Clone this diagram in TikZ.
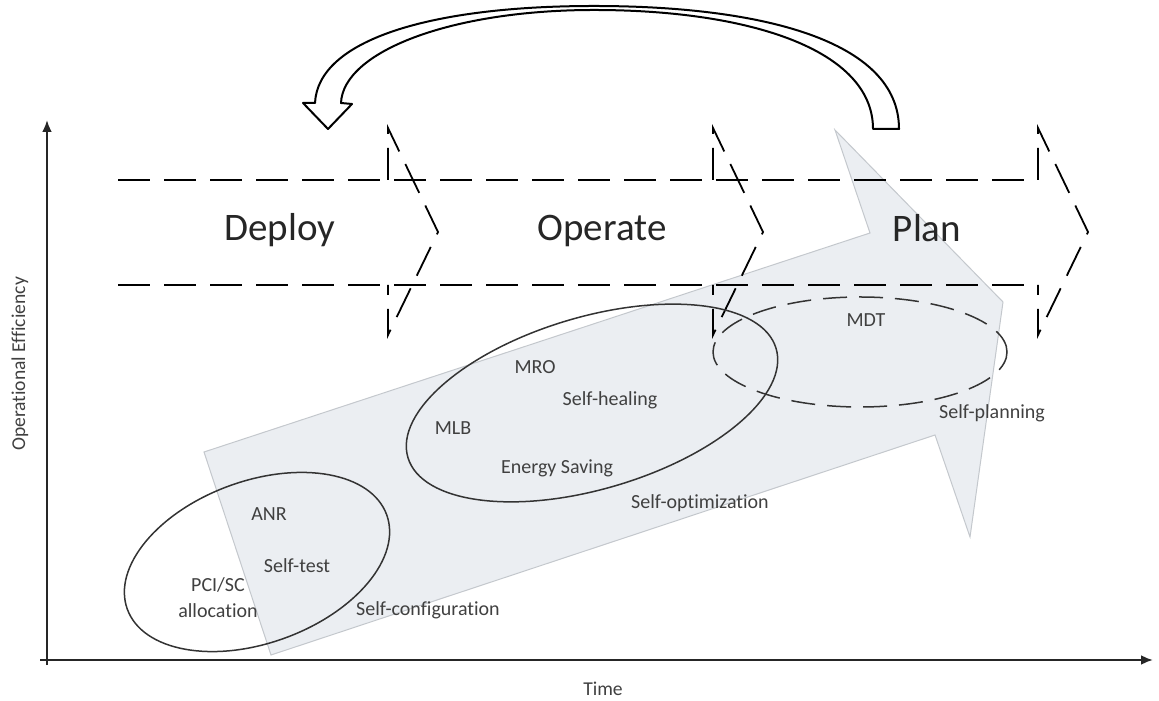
\documentclass[tikz,border=0pt]{standalone}
\usepackage{fontspec}
\setmainfont{Carlito}[Ligatures={NoCommon}]
\usetikzlibrary{arrows.meta}
\definecolor{arrowfill}{RGB}{235,238,242}
\definecolor{arrowedge}{RGB}{196,200,205}
\definecolor{labelgray}{RGB}{64,64,64}
\tikzset{
  dashline/.style={line width=0.9pt, dash pattern=on 16pt off 7pt},
  phase/.style={font=\fontsize{19.5}{22}\selectfont, text=black!85, anchor=base},
  feature/.style={font=\fontsize{10}{12}\selectfont, text=labelgray, inner sep=0pt, align=center},
  axislabel/.style={font=\fontsize{9.8}{12}\selectfont, text=labelgray, inner sep=0pt}
}
\begin{document}
\begin{tikzpicture}[x=0.5pt, y=0.5pt]
  \useasboundingbox (0,0) rectangle (1159,700);
  % big grey arrow in the background
  \draw[fill=arrowfill, draw=arrowedge, line width=0.5pt]
    (271,45) -- (204,248) -- (870,467) -- (835,570) -- (1003,398)
    -- (970,163) -- (935,265) -- cycle;
  % dashed chevrons: Deploy, Operate, Plan
  \draw[dashline] (118,520) -- (1038,520);
  \draw[dashline] (118,415) -- (1038,415);
  \foreach \x in {388,713,1038}
    \draw[dashline] (\x,520) -- (\x,572) -- (\x+50,468) -- (\x,365) -- (\x,415);
  \node[phase] (deploy) at (280,459) {Deploy};
  \node[phase] (operate) at (602,459) {Operate};
  \node[phase] (plan) at (927,458) {Plan};
  % groups of functions
  \draw[line width=0.75pt, black!80] (257,138) ellipse [x radius=138, y radius=81, rotate=20];
  \draw[line width=0.75pt, black!80] (592,297) ellipse [x radius=192, y radius=86, rotate=16.5];
  \draw[line width=0.75pt, black!80, dash pattern=on 12pt off 6pt] (860,348) ellipse [x radius=147, y radius=55];
  \node[feature] (anr) at (269,186) {ANR};
  \node[feature] (selftest) at (297,134) {Self-test};
  \node[feature] (pci) at (218,102) {PCI/SC\\[1pt]allocation};
  \node[feature] (selfconf) at (428,90) {Self-configuration};
  \node[feature] (mro) at (535,333) {MRO};
  \node[feature] (selfheal) at (610,300) {Self-healing};
  \node[feature] (mlb) at (453,272) {MLB};
  \node[feature] (energy) at (557,232) {Energy Saving};
  \node[feature] (selfopt) at (700,197) {Self-optimization};
  \node[feature] (mdt) at (866,380) {MDT};
  \node[feature] (selfplan) at (992,287) {Self-planning};
  % curved arrow back from plan to deploy
  \draw[fill=white, line width=1pt, line join=round]
    (873,571) -- (899,571)
    .. controls (899,660) and (760,694) .. (594,694)
    .. controls (430,694) and (318,660) .. (315,597)
    -- (303,597) -- (328,571) -- (352,596) -- (341,597)
    .. controls (343,648) and (450,690) .. (594,690)
    .. controls (750,690) and (873,650) .. cycle;
  % axes
  \coordinate (origin) at (47,40);
  \coordinate (ytop) at (47,580);
  \coordinate (xend) at (1153,40);
  \draw[line width=1.2pt, black!85, -{Latex[length=6pt,width=5pt]}] (47,35) -- (ytop);
  \draw[line width=1.2pt, black!85, -{Latex[length=6pt,width=5pt]}] (40,40) -- (xend);
  \node[axislabel] (time) at (603,11) {Time};
  \node[axislabel, rotate=90] (effic) at (20,336) {Operational Efficiency};
\end{tikzpicture}
\end{document}
